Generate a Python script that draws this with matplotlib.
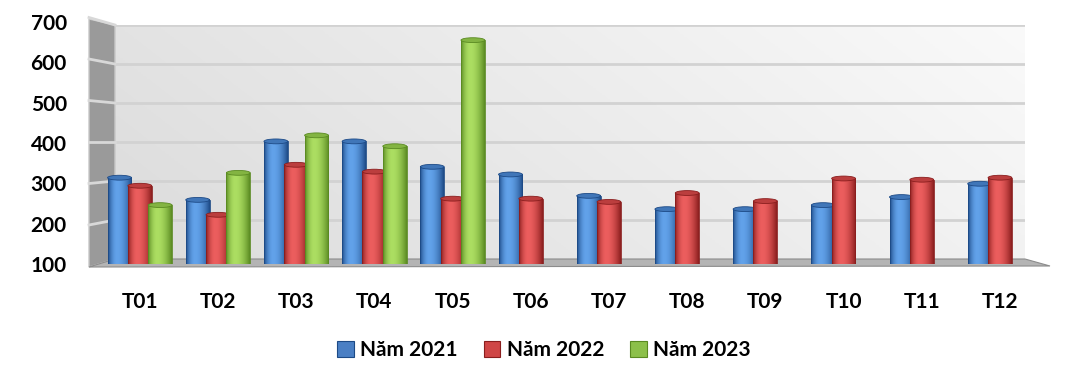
import numpy as np
import matplotlib
matplotlib.use("Agg")
import matplotlib.pyplot as plt
from matplotlib.patches import Polygon, Rectangle, Ellipse, Patch
from matplotlib.colors import to_rgb

# Data
months = ["T01", "T02", "T03", "T04", "T05", "T06", "T07", "T08", "T09", "T10", "T11", "T12"]
y2021 = [314, 259, 404, 404, 341, 322, 269, 236, 236, 246, 266, 299]
y2022 = [294, 222, 346, 329, 262, 262, 254, 276, 256, 312, 309, 314]
y2023 = [246, 326, 419, 392, 655, np.nan, np.nan, np.nan, np.nan, np.nan, np.nan, np.nan]
series_names = ["Năm 2021", "Năm 2022", "Năm 2023"]

# (dark edge, highlight) per series
palette = [("#1d4a86", "#62a2ea"), ("#8a1e1e", "#ec5e5e"), ("#5a8a22", "#acde62")]
legend_colors = ["#4a7fc4", "#cf4646", "#8cc04a"]

W, H = 1081, 376
fig = plt.figure(figsize=(W / 100, H / 100), dpi=100)
fig.patch.set_facecolor("white")
plt.rcParams["font.family"] = ["Lato", "DejaVu Sans"]


def box(left, top, right, bottom):
    return [left / W, 1 - bottom / H, (right - left) / W, (bottom - top) / H]


def fp(x, y):
    return (x / W, 1 - y / H)


# Back wall
ax_back = fig.add_axes(box(115, 25, 1025, 259))
ax_back.set_zorder(0)
gx, gy = np.meshgrid(np.linspace(0, 1, 200), np.linspace(0, 1, 100))
wall = 0.86 + 0.12 * (0.75 * gx + 0.25 * gy)
ax_back.imshow(np.dstack([wall] * 3), extent=[0, 1, 100, 700], aspect="auto", origin="lower")
ax_back.set_xlim(0, 1)
ax_back.set_ylim(100, 700)
for v in range(200, 701, 100):
    ax_back.axhline(v, color="#d2d2d2", lw=2)
ax_back.axis("off")

# Side wall and floor
side = Polygon([fp(89, 19), fp(115, 25), fp(115, 259), fp(89, 267)], closed=True,
               transform=fig.transFigure, facecolor="#9a9a9a", edgecolor="#c8c8c8", lw=1, zorder=1)
fig.patches.append(side)
for v in range(200, 701, 100):
    yr = 259 - (v - 100) * 234 / 600
    yl = 142 + (yr - 142) * 1.064
    fig.lines.append(plt.Line2D([89 / W, 115 / W], [1 - yl / H, 1 - yr / H],
                                transform=fig.transFigure, color="#d8d8d8", lw=2, zorder=1.1))
floor = Polygon([fp(115, 259), fp(1025, 259), fp(1050, 266), fp(89, 267)], closed=True,
                transform=fig.transFigure, facecolor="#b4b4b4", edgecolor="#8c8c8c", lw=0.8, zorder=1)
fig.patches.append(floor)

# Front plane with bars
ax = fig.add_axes(box(89, 22, 1050, 264))
ax.set_zorder(2)
ax.patch.set_alpha(0)

x = np.arange(len(months))
width = 0.305
offsets = [-0.26, 0.0, 0.26]
cap_h = 12


def gradient(dark, light, n=60):
    t = np.linspace(0, 1, n)
    s = np.where(t < 0.38, np.sin(t / 0.38 * np.pi / 2) ** 0.8,
                 np.cos((t - 0.38) / 0.62 * np.pi / 2) ** 0.9)
    d = np.array(to_rgb(dark))
    l = np.array(to_rgb(light))
    return (d[None, :] * (1 - s[:, None]) + l[None, :] * s[:, None])[None, :, :]


for k, vals in enumerate([y2021, y2022, y2023]):
    dark, light = palette[k]
    grad = gradient(dark, light)
    mid = tuple(0.5 * np.array(to_rgb(dark)) + 0.5 * np.array(to_rgb(light)))
    for i, v in enumerate(vals):
        if np.isnan(v):
            continue
        z = 3 + k
        x0 = x[i] + offsets[k] - width / 2
        ax.imshow(grad, extent=[x0, x0 + width, 97, v], aspect="auto", zorder=z, interpolation="bilinear")
        ax.add_patch(Rectangle((x0, 97), width, v - 97, fill=False, edgecolor=dark, lw=0.6, zorder=z + 0.1))
        ax.add_patch(Ellipse((x0 + width / 2, v), width, cap_h, facecolor=mid, edgecolor=dark, lw=0.6,
                             zorder=z + 0.2))

ax.set_xlim(-0.65, 11.64)
ax.set_ylim(100, 700)
ax.set_xticks(x)
ax.set_xticklabels(months, fontsize=15, fontweight="bold")
ax.set_yticks(range(100, 701, 100))
ax.set_yticklabels([str(v) for v in range(100, 701, 100)], fontsize=15, fontweight="bold")
ax.tick_params(axis="x", length=0, pad=20)
ax.tick_params(axis="y", length=0, pad=16)
for s in ax.spines.values():
    s.set_visible(False)

handles = [Patch(facecolor=legend_colors[k], edgecolor=palette[k][0], lw=0.8) for k in range(3)]
fig.legend(handles, series_names, loc="center", bbox_to_anchor=(544 / W, 1 - 350 / H), ncol=3,
           frameon=False, prop={"weight": "bold", "size": 15}, handlelength=0.8, handleheight=0.8,
           handletextpad=0.3, columnspacing=1.25)

fig.savefig("out.png", dpi=100)
